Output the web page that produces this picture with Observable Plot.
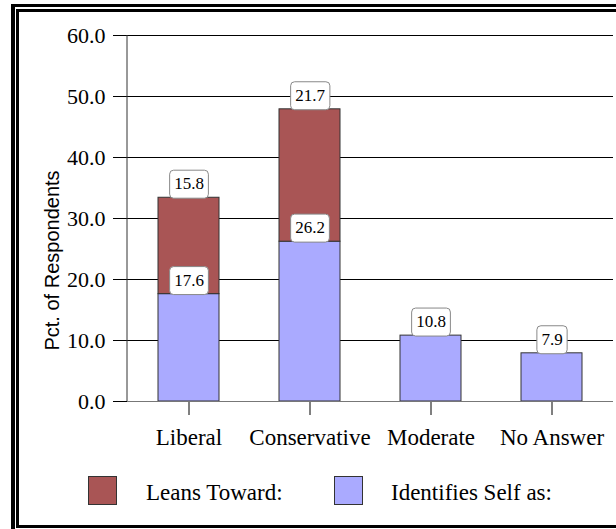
<!DOCTYPE html>
<html>
<head>
<meta charset="utf-8">
<script src="https://cdn.jsdelivr.net/npm/d3@7"></script>
<script src="https://cdn.jsdelivr.net/npm/@observablehq/plot@0.6"></script>
<style>
  html, body { margin: 0; padding: 0; background: white; }
  #wrap { position: relative; width: 616px; height: 529px; overflow: hidden; background: white; }
  #chart { position: absolute; left: 0; top: 0; }
  .frame { position: absolute; box-sizing: border-box; pointer-events: none; }
  #outer { left: 11px; top: 4px; width: 700px; height: 700px; border-left: 4px solid #000; border-top: 3px solid #000; }
  #inner { left: 16px; top: 9px; width: 700px; height: 519px; border-left: 3px solid #000; border-top: 3px solid #000; border-bottom: 3px solid #000; }
  .sw { position: absolute; width: 29px; height: 29px; box-sizing: border-box; border: 1px solid #333; }
  .lt { position: absolute; font-family: 'Liberation Serif', 'Times New Roman', Times, serif; font-size: 23px; line-height: 23px; color: #000; white-space: nowrap; }
  #chart svg text { font-family: 'Liberation Serif', 'Times New Roman', Times, serif; }
  #chart svg g.ylab text { font-family: 'Liberation Sans', Arial, sans-serif; }
</style>
</head>
<body>
<div id="wrap">
  <div id="chart"></div>
  <div id="legend"></div>
  <div class="frame" id="outer"></div>
  <div class="frame" id="inner"></div>
</div>
<script>
const categories = ["Liberal", "Conservative", "Moderate", "No Answer"];
const identifiesSelf = [17.6, 26.2, 10.8, 7.9];
const leansToward = [15.8, 21.7, null, null];
const seriesNames = ["Identifies Self as:", "Leans Toward:"];
const seriesColors = ["#aaaaff", "#a95555"];
const yTicks = [0, 10, 20, 30, 40, 50, 60];
const yLabel = "Pct. of Respondents";

const SERIF = "'Liberation Serif', 'Times New Roman', Times, serif";
const SANS = "'Liberation Sans', Arial, sans-serif";

const data = [];
categories.forEach((c, i) => { if (identifiesSelf[i] != null) data.push({category: c, series: seriesNames[0], value: identifiesSelf[i]}); });
categories.forEach((c, i) => { if (leansToward[i] != null) data.push({category: c, series: seriesNames[1], value: leansToward[i]}); });

const yAxisLine = (index, scales, values, dims) => {
  const l = document.createElementNS("http://www.w3.org/2000/svg", "line");
  l.setAttribute("x1", dims.marginLeft); l.setAttribute("x2", dims.marginLeft);
  l.setAttribute("y1", dims.marginTop); l.setAttribute("y2", dims.height - dims.marginBottom);
  l.setAttribute("stroke", "#333");
  return l;
};

const chart = Plot.plot({
  width: 616,
  height: 460,
  marginLeft: 127,
  marginRight: 3,
  marginTop: 35,
  marginBottom: 59,
  style: {fontFamily: SERIF, fontSize: "23px", background: "transparent", color: "#000", overflow: "visible"},
  x: {domain: categories, paddingInner: 0.5, paddingOuter: 0.25, label: null},
  y: {domain: [0, 60], label: null},
  color: {domain: seriesNames, range: seriesColors},
  marks: [
    Plot.gridY(yTicks, {stroke: "#000", strokeOpacity: 1}),
    Plot.axisY(yTicks, {tickSize: 14, tickPadding: 8, tickFormat: d => d.toFixed(1), fontSize: 22, label: null, stroke: "#000", fontFamily: SERIF}),
    Plot.axisX({tickSize: 14, tickPadding: 13, fontSize: 23, label: null, stroke: "#000", fontFamily: SERIF}),
    Plot.barY(data, {x: "category", y: "value", fill: "series", stroke: "#333", strokeWidth: 1}),
    Plot.ruleY([0], {stroke: "#777"}),
    yAxisLine,
    Plot.text(data, Plot.stackY2({x: "category", y: "value", text: d => d.value.toFixed(1), dy: -14, fontSize: 17, fill: "#000", fontFamily: SERIF})),
    Plot.text([yLabel], {frameAnchor: "left", textAnchor: "middle", rotate: -90, dx: -75, dy: 42, fontFamily: SANS, fontSize: 20, fill: "#000"})
  ]
});
document.getElementById("chart").appendChild(chart);

// rounded white boxes behind value labels
const texts = chart.querySelectorAll('g[aria-label="text"]');
texts[texts.length - 1].classList.add("ylab");
const valueGroup = texts[0];
valueGroup.querySelectorAll("text").forEach(t => {
  const b = t.getBBox();
  const w = b.width + 9, h = 28;
  const cx = b.x + b.width / 2, cy = b.y + b.height / 2;
  const r = document.createElementNS("http://www.w3.org/2000/svg", "rect");
  r.setAttribute("x", cx - w / 2); r.setAttribute("y", cy - h / 2 + 0.5);
  r.setAttribute("width", w); r.setAttribute("height", h);
  r.setAttribute("rx", 4); r.setAttribute("ry", 4);
  r.setAttribute("fill", "#fff"); r.setAttribute("stroke", "#888");
  const tr = t.getAttribute("transform");
  if (tr) r.setAttribute("transform", tr);
  t.parentNode.insertBefore(r, t);
});

// legend
const legend = document.getElementById("legend");
const legendPos = [{sq: 88, tx: 146}, {sq: 334, tx: 391}];
[1, 0].forEach((si, k) => {
  const s = document.createElement("div");
  s.className = "sw"; s.style.left = legendPos[k].sq + "px"; s.style.top = "476px"; s.style.background = seriesColors[si];
  legend.appendChild(s);
  const t = document.createElement("div");
  t.className = "lt"; t.style.left = legendPos[k].tx + "px"; t.style.top = "481px"; t.textContent = seriesNames[si];
  legend.appendChild(t);
});
</script>
</body>
</html>
